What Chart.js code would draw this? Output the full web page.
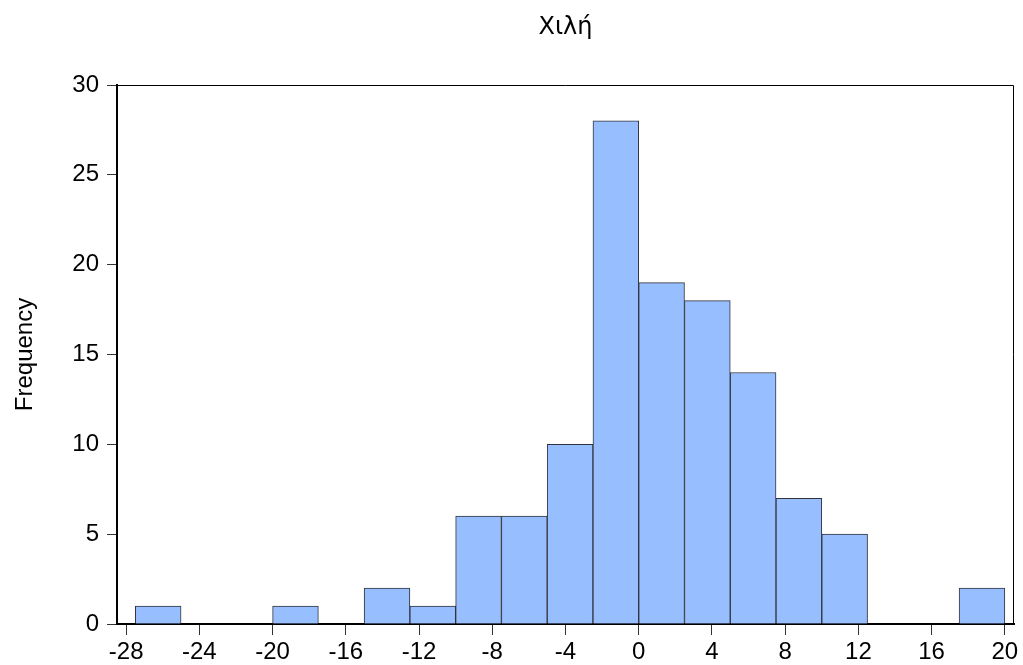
<!DOCTYPE html>
<html>
<head>
<meta charset="utf-8">
<script src="https://cdn.jsdelivr.net/npm/chart.js@4"></script>
<style>
  html, body { margin: 0; padding: 0; background: #ffffff; }
  #wrap { width: 1023px; height: 665px; position: relative; }
</style>
</head>
<body>
<div id="wrap"><canvas id="hist"></canvas></div>
<script>
// Histogram bins: lower edge of each bin, common width, and counts
const binLower = [-27.5, -25, -22.5, -20, -17.5, -15, -12.5, -10, -7.5, -5,
                  -2.5, 0, 2.5, 5, 7.5, 10, 12.5, 15, 17.5];
const binWidth = 2.5;
const counts = [1, 0, 0, 1, 0, 2, 1, 6, 6, 10, 28, 19, 18, 14, 7, 5, 0, 0, 2];

const xTicks = [-28, -24, -20, -16, -12, -8, -4, 0, 4, 8, 12, 16, 20];
const yTicks = [0, 5, 10, 15, 20, 25, 30];
const xRange = [-28.5, 20.5];
const yRange = [0, 30];

const titleText = 'Χιλή';
const yTitle = 'Frequency';

const FONT = "'Liberation Sans', Arial, Helvetica, sans-serif";
const TITLE_FONT = "'DejaVu Sans', 'Liberation Sans', sans-serif";

const points = binLower.map((lo, i) => ({ x: lo + binWidth / 2, y: counts[i] }));

// Frame around the plot plus the centred title above it
const framePlugin = {
  id: 'frame',
  afterDraw(chart) {
    const { ctx, chartArea: a } = chart;
    ctx.save();
    ctx.strokeStyle = '#000';
    ctx.lineWidth = 1;
    ctx.beginPath();
    ctx.moveTo(a.left, a.top + 0.5);
    ctx.lineTo(a.right - 0.5, a.top + 0.5);
    ctx.lineTo(a.right - 0.5, a.bottom);
    ctx.stroke();
    ctx.fillStyle = '#000';
    ctx.font = '24px ' + TITLE_FONT;
    ctx.textAlign = 'center';
    ctx.textBaseline = 'middle';
    ctx.fillText(titleText, (a.left + a.right) / 2, 28);
    ctx.restore();
  }
};

new Chart(document.getElementById('hist'), {
  type: 'bar',
  data: {
    datasets: [{
      data: points,
      backgroundColor: 'rgb(151,190,255)',
      borderColor: 'rgb(50,50,60)',
      borderWidth: 1,
      borderSkipped: 'bottom',
      barPercentage: 1,
      categoryPercentage: 1,
      grouped: false
    }]
  },
  options: {
    responsive: true,
    maintainAspectRatio: false,
    animation: false,
    devicePixelRatio: 1,
    layout: { padding: { top: 85, right: 9, left: 0, bottom: 0 } },
    plugins: {
      legend: { display: false },
      tooltip: { enabled: false },
      title: { display: false }
    },
    scales: {
      x: {
        type: 'linear',
        min: xRange[0],
        max: xRange[1],
        offset: false,
        afterBuildTicks: (s) => { s.ticks = xTicks.map(v => ({ value: v })); },
        afterFit: (s) => { s.height = 41; },
        ticks: {
          callback: (v) => String(v),
          color: '#000',
          font: { family: FONT, size: 24 },
          padding: 3,
          maxRotation: 0,
          autoSkip: false
        },
        grid: {
          offset: false,
          drawOnChartArea: false,
          drawTicks: true,
          tickLength: 11,
          color: '#333',
          lineWidth: 1
        },
        border: { display: true, color: '#000', width: 2 }
      },
      y: {
        type: 'linear',
        min: yRange[0],
        max: yRange[1],
        afterBuildTicks: (s) => { s.ticks = yTicks.map(v => ({ value: v })); },
        afterFit: (s) => { s.width = 117; },
        ticks: {
          color: '#000',
          font: { family: FONT, size: 24 },
          padding: 8
        },
        grid: {
          drawOnChartArea: false,
          drawTicks: true,
          tickLength: 10,
          color: '#333',
          lineWidth: 1
        },
        border: { display: true, color: '#000', width: 2 },
        title: {
          display: true,
          text: yTitle,
          color: '#000',
          font: { family: FONT, size: 24 },
          padding: { top: 11, bottom: 4 }
        }
      }
    }
  },
  plugins: [framePlugin]
});
</script>
</body>
</html>
